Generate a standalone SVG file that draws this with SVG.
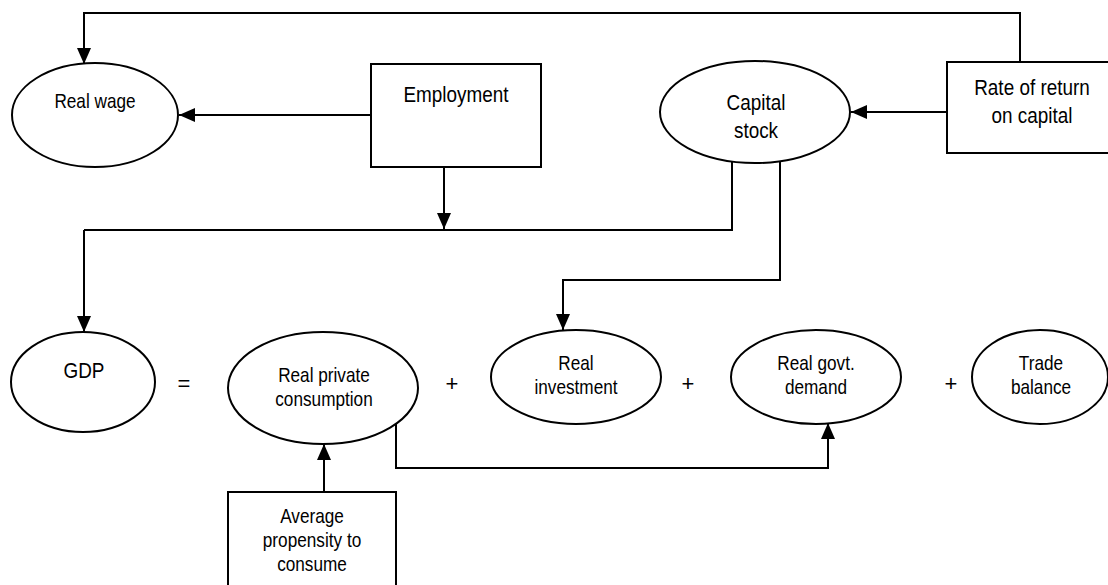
<svg xmlns="http://www.w3.org/2000/svg" width="1108" height="585" viewBox="0 0 1108 585">
<defs>
<marker id="ah" viewBox="0 0 16 14" refX="16" refY="7" markerWidth="16" markerHeight="14" markerUnits="userSpaceOnUse" orient="auto">
<path d="M0,0 L16,7 L0,14 Z" fill="#000"/>
</marker>
<style>
.n{fill:#fff;stroke:#000;stroke-width:2}
.c{fill:none;stroke:#000;stroke-width:2}
.a{fill:none;stroke:#000;stroke-width:2;marker-end:url(#ah)}
text{font-family:"Liberation Sans",Arial,sans-serif;fill:#000;text-anchor:middle}
.l{font-size:22px}
.s{font-size:20px}
.op{font-size:22px}
</style>
</defs>
<rect width="1108" height="585" fill="#fff"/>
<g id="connectors">
<path class="a" d="M1020,62 V13 H84 V64"/>
<path class="a" d="M371,115 H179"/>
<path class="a" d="M947,112 H851"/>
<path class="a" d="M444,167 V229"/>
<path class="c" d="M732,160 V230 H84"/>
<path class="a" d="M84,230 V332"/>
<path class="a" d="M780,158 V280 H563 V330"/>
<path class="a" d="M396,419 V468 H828 V423"/>
<path class="a" d="M324,492 V444"/>
</g>
<g id="real-wage">
<ellipse class="n" cx="95" cy="115" rx="83" ry="52"/>
<text class="s" transform="translate(95,108) scale(0.86,1)">Real wage</text>
</g>
<g id="employment">
<rect class="n" x="371" y="64" width="170" height="103"/>
<text class="l" transform="translate(456,102) scale(0.86,1)">Employment</text>
</g>
<g id="capital-stock">
<ellipse class="n" cx="755" cy="112" rx="95" ry="51"/>
<text class="l" transform="translate(756,110) scale(0.86,1)">Capital</text>
<text class="l" transform="translate(756,138) scale(0.86,1)">stock</text>
</g>
<g id="rate-of-return">
<rect class="n" x="947" y="62" width="170" height="91"/>
<text class="l" transform="translate(1032,95) scale(0.86,1)">Rate of return</text>
<text class="l" transform="translate(1032,123) scale(0.86,1)">on capital</text>
</g>
<g id="gdp">
<ellipse class="n" cx="83" cy="382" rx="72" ry="50"/>
<text class="l" transform="translate(84,378) scale(0.86,1)">GDP</text>
</g>
<text class="op" x="184" y="391">=</text>
<g id="consumption">
<ellipse class="n" cx="323" cy="388" rx="95" ry="56"/>
<text class="s" transform="translate(324,382) scale(0.86,1)">Real private</text>
<text class="s" transform="translate(324,406) scale(0.86,1)">consumption</text>
</g>
<text class="op" x="452" y="391">+</text>
<g id="investment">
<ellipse class="n" cx="576" cy="377" rx="85" ry="47"/>
<text class="s" transform="translate(576,370) scale(0.86,1)">Real</text>
<text class="s" transform="translate(576,394) scale(0.86,1)">investment</text>
</g>
<text class="op" x="688" y="391">+</text>
<g id="govt-demand">
<ellipse class="n" cx="816" cy="377" rx="85" ry="47"/>
<text class="s" transform="translate(816,370) scale(0.86,1)">Real govt.</text>
<text class="s" transform="translate(816,394) scale(0.86,1)">demand</text>
</g>
<text class="op" x="951" y="391">+</text>
<g id="trade-balance">
<ellipse class="n" cx="1040" cy="377" rx="68" ry="47"/>
<text class="s" transform="translate(1041,370) scale(0.86,1)">Trade</text>
<text class="s" transform="translate(1041,394) scale(0.86,1)">balance</text>
</g>
<g id="apc">
<rect class="n" x="228" y="492" width="168" height="100"/>
<text class="s" transform="translate(312,523) scale(0.86,1)">Average</text>
<text class="s" transform="translate(312,547) scale(0.86,1)">propensity to</text>
<text class="s" transform="translate(312,571) scale(0.86,1)">consume</text>
</g>
</svg>
